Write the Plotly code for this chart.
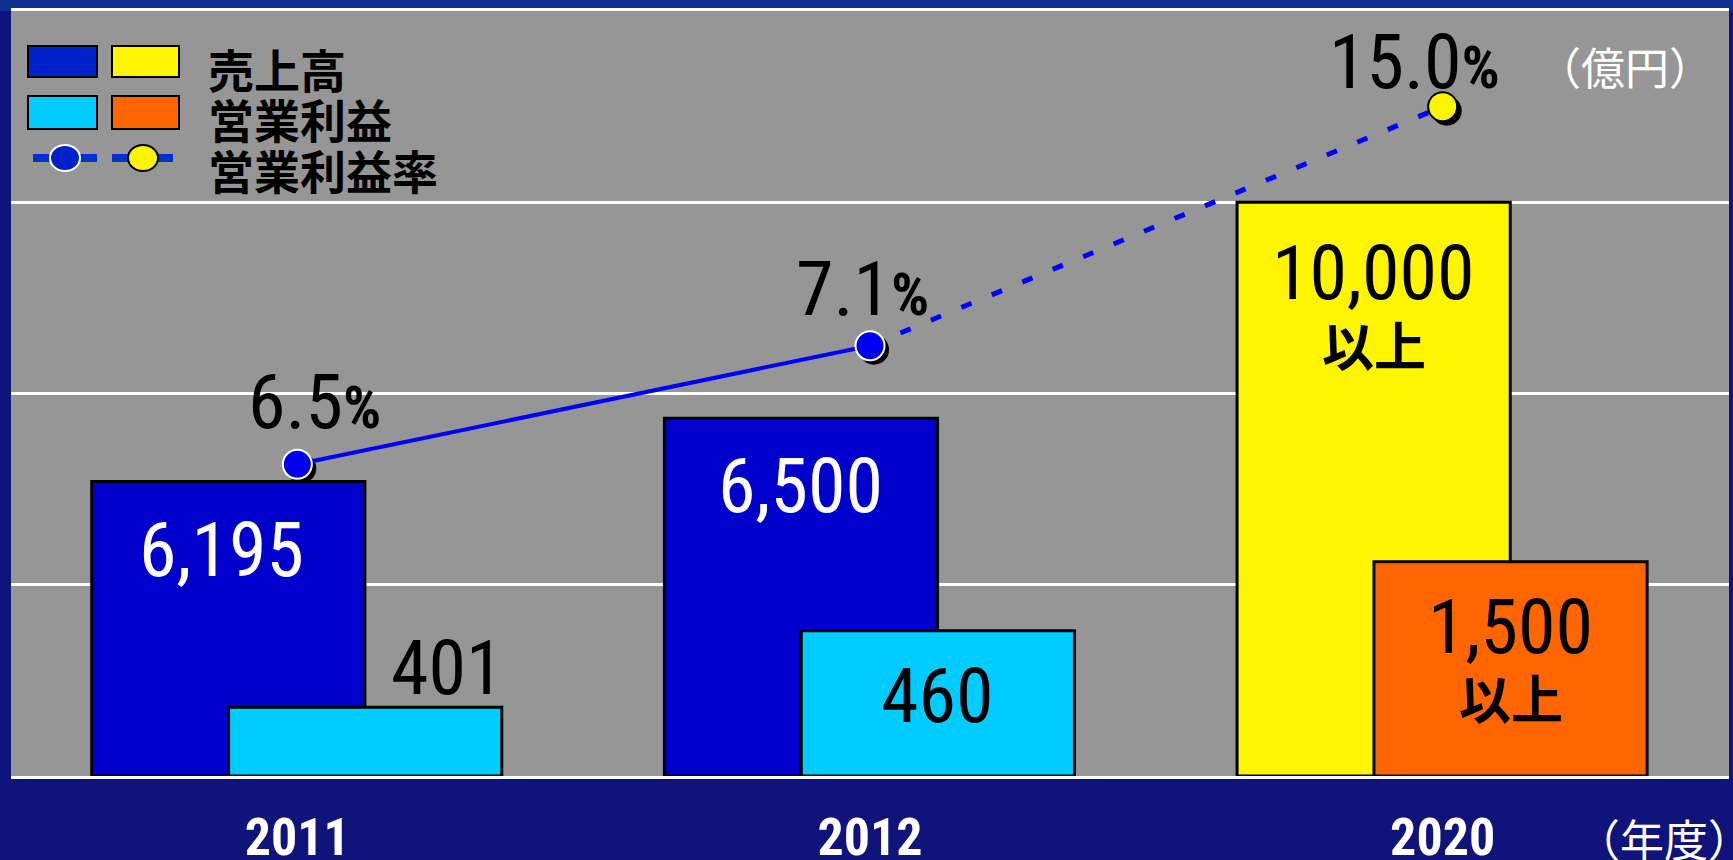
import plotly.graph_objects as go

# ---------------- data ----------------
years = ["2011", "2012", "2020"]
sales = [6195, 6500, 10000]            # 売上高 (億円)
op_profit = [401, 460, 1500]           # 営業利益 (億円)
op_margin = [6.5, 7.1, 15.0]           # 営業利益率 (%)
label_suffix = ["", "", "以上"]
# heights as drawn in the (schematic) picture, in gridline units
sales_height = [1.54, 1.87, 3.00]
op_height = [0.36, 0.76, 1.12]
margin_height = [1.63, 2.25, 3.50]

# ---------------- style ----------------
W, H = 1733, 860
ML, MR, MT, MB = 11, 4, 11, 84
PW, PH = W - ML - MR, H - MT - MB
NUM_FONT = "Roboto, Liberation Sans, Arial"
CJK_FONT = "Noto Sans CJK JP, Noto Sans CJK SC, sans-serif"
sales_colors = ["#0000CC", "#0000CC", "#FFF500"]
op_colors = ["#00CCFF", "#00CCFF", "#FF6600"]
sales_text_colors = ["white", "white", "black"]
marker_colors = ["#0000EE", "#0000EE", "#FFF500"]
marker_line_colors = ["white", "white", "black"]
BAR_W = 0.477
SALES_OFF = -0.359
OP_OFF = -0.120
x = list(range(len(years)))


def cond(s):
    return f"<span style='font-stretch:condensed'>{s}</span>"


def px_x(p):
    return (p - ML) / PW


def px_y(p):
    return (H - MB - p) / PH


fig = go.Figure()

fig.add_trace(go.Bar(
    x=x, y=sales_height, width=BAR_W, offset=SALES_OFF,
    marker=dict(color=sales_colors, line=dict(color="black", width=3)),
    hoverinfo="skip", showlegend=False))
fig.add_trace(go.Bar(
    x=x, y=op_height, width=BAR_W, offset=OP_OFF,
    marker=dict(color=op_colors, line=dict(color="black", width=3)),
    hoverinfo="skip", showlegend=False))

# margin line: solid (actual), dotted (target)
fig.add_trace(go.Scatter(
    x=x[:2], y=margin_height[:2], mode="lines",
    line=dict(color="#0000FF", width=4), hoverinfo="skip", showlegend=False))
fig.add_trace(go.Scatter(
    x=x[1:], y=margin_height[1:], mode="lines",
    line=dict(color="#0000FF", width=5, dash="11px,22px"), hoverinfo="skip", showlegend=False))

shapes = []
# marker drop shadows
for i in x:
    shapes.append(dict(type="circle", xref="x", yref="y", layer="between",
                       xsizemode="pixel", ysizemode="pixel", xanchor=i, yanchor=margin_height[i],
                       x0=-11, x1=19, y0=-19, y1=11, fillcolor="black", line=dict(width=0)))
fig.add_trace(go.Scatter(
    x=x, y=margin_height, mode="markers",
    marker=dict(size=29, color=marker_colors, line=dict(color=marker_line_colors, width=2)),
    hoverinfo="skip", showlegend=False))

annotations = []
sales_shift = [(-7, -69), (0, -68), (0, -71)]
for i in x:
    cx = i + SALES_OFF + BAR_W / 2
    annotations.append(dict(x=cx, y=sales_height[i], xref="x", yref="y",
                            xshift=sales_shift[i][0], yshift=sales_shift[i][1],
                            text=cond(f"{sales[i]:,}"), showarrow=False,
                            font=dict(family=NUM_FONT, size=76, color=sales_text_colors[i])))
    if label_suffix[i]:
        annotations.append(dict(x=cx, y=sales_height[i], xref="x", yref="y", yshift=-141,
                                text=f"<b>{label_suffix[i]}</b>", showarrow=False,
                                font=dict(family=CJK_FONT, size=52, color="black")))
op_shift = [(82, 39), (0, -65), (0, -65)]
for i in x:
    cx = i + OP_OFF + BAR_W / 2
    annotations.append(dict(x=cx, y=op_height[i], xref="x", yref="y",
                            xshift=op_shift[i][0], yshift=op_shift[i][1],
                            text=cond(f"{op_profit[i]:,}"), showarrow=False,
                            font=dict(family=NUM_FONT, size=76, color="black")))
    if label_suffix[i]:
        annotations.append(dict(x=cx, y=op_height[i], xref="x", yref="y", yshift=-135,
                                text=f"<b>{label_suffix[i]}</b>", showarrow=False,
                                font=dict(family=CJK_FONT, size=52, color="black")))
pct_shift = [(17, 62), (-8, 57), (-28, 45)]
for i in x:
    annotations.append(dict(x=i, y=margin_height[i], xref="x", yref="y",
                            xshift=pct_shift[i][0], yshift=pct_shift[i][1],
                            text=cond(f"{op_margin[i]:.1f}<span style='font-size:60px'><b>%</b></span>"),
                            showarrow=False,
                            font=dict(family=NUM_FONT, size=76, color="black")))

# unit labels
annotations.append(dict(x=px_x(1625), y=px_y(66), xref="paper", yref="paper", text="（億円）",
                        xanchor="center", yanchor="middle",
                        showarrow=False, font=dict(family=CJK_FONT, size=44, color="white")))
annotations.append(dict(x=px_x(1664), y=px_y(838), xref="paper", yref="paper", text="（年度）",
                        xanchor="center", yanchor="middle",
                        showarrow=False, font=dict(family=CJK_FONT, size=44, color="white")))

# custom legend (two colour swatches per row)
legend_rows = [("売上高", 68), ("営業利益", 118), ("営業利益率", 169)]
for txt, cy in legend_rows:
    annotations.append(dict(x=px_x(206), y=px_y(cy), xref="paper", yref="paper",
                            xanchor="left", yanchor="middle",
                            text=f"<b>{txt}</b>", showarrow=False,
                            font=dict(family=CJK_FONT, size=46, color="black")))
swatches = [(28, 46, 97, 77, "#0022CC"), (112, 46, 179, 77, "#FFF500"),
            (28, 96, 97, 129, "#00CCFF"), (112, 96, 179, 129, "#FF6600")]
for x0, y0, x1, y1, c in swatches:
    shapes.append(dict(type="rect", xref="paper", yref="paper",
                       x0=px_x(x0), x1=px_x(x1), y0=px_y(y1), y1=px_y(y0),
                       fillcolor=c, line=dict(color="black", width=2)))
for lx0, lx1, cx, fill, edge in [(33, 97, 65, "#0022CC", "white"), (112, 173, 143, "#FFF500", "black")]:
    shapes.append(dict(type="line", xref="paper", yref="paper",
                       x0=px_x(lx0), x1=px_x(lx1), y0=px_y(158), y1=px_y(158),
                       line=dict(color="#0033CC", width=8)))
    shapes.append(dict(type="circle", xref="paper", yref="paper",
                       x0=px_x(cx - 15), x1=px_x(cx + 15), y0=px_y(171), y1=px_y(145),
                       fillcolor=fill, line=dict(color=edge, width=2)))
# top band of background
shapes.append(dict(type="rect", xref="paper", yref="paper", layer="below",
                   x0=-ML / PW, x1=1 + MR / PW, y0=1, y1=1 + MT / PH,
                   fillcolor="#0E2F8F", line=dict(width=0)))

fig.update_layout(
    width=W, height=H,
    margin=dict(l=ML, r=MR, t=MT, b=MB, pad=0, autoexpand=False),
    paper_bgcolor="#10147A", plot_bgcolor="#969696",
    barmode="overlay", showlegend=False,
    shapes=shapes, annotations=annotations,
    xaxis=dict(range=[-0.5, 2.5], tickvals=x, ticktext=[cond(y) for y in years],
               showgrid=False, zeroline=False,
               showline=True, mirror=True, linecolor="white", linewidth=3,
               ticks="", ticklabelstandoff=14, automargin=False,
               tickfont=dict(family=NUM_FONT, size=52, color="white", weight="bold")),
    yaxis=dict(range=[0, 4], tickvals=[1, 2, 3], showticklabels=False, showgrid=True,
               gridcolor="white", gridwidth=3, zeroline=False, showline=False, ticks="",
               automargin=False),
)

fig.write_html("out.html", config={"displayModeBar": False},
               post_script="document.body.style.margin='0px';document.body.style.background='#10147A';")
